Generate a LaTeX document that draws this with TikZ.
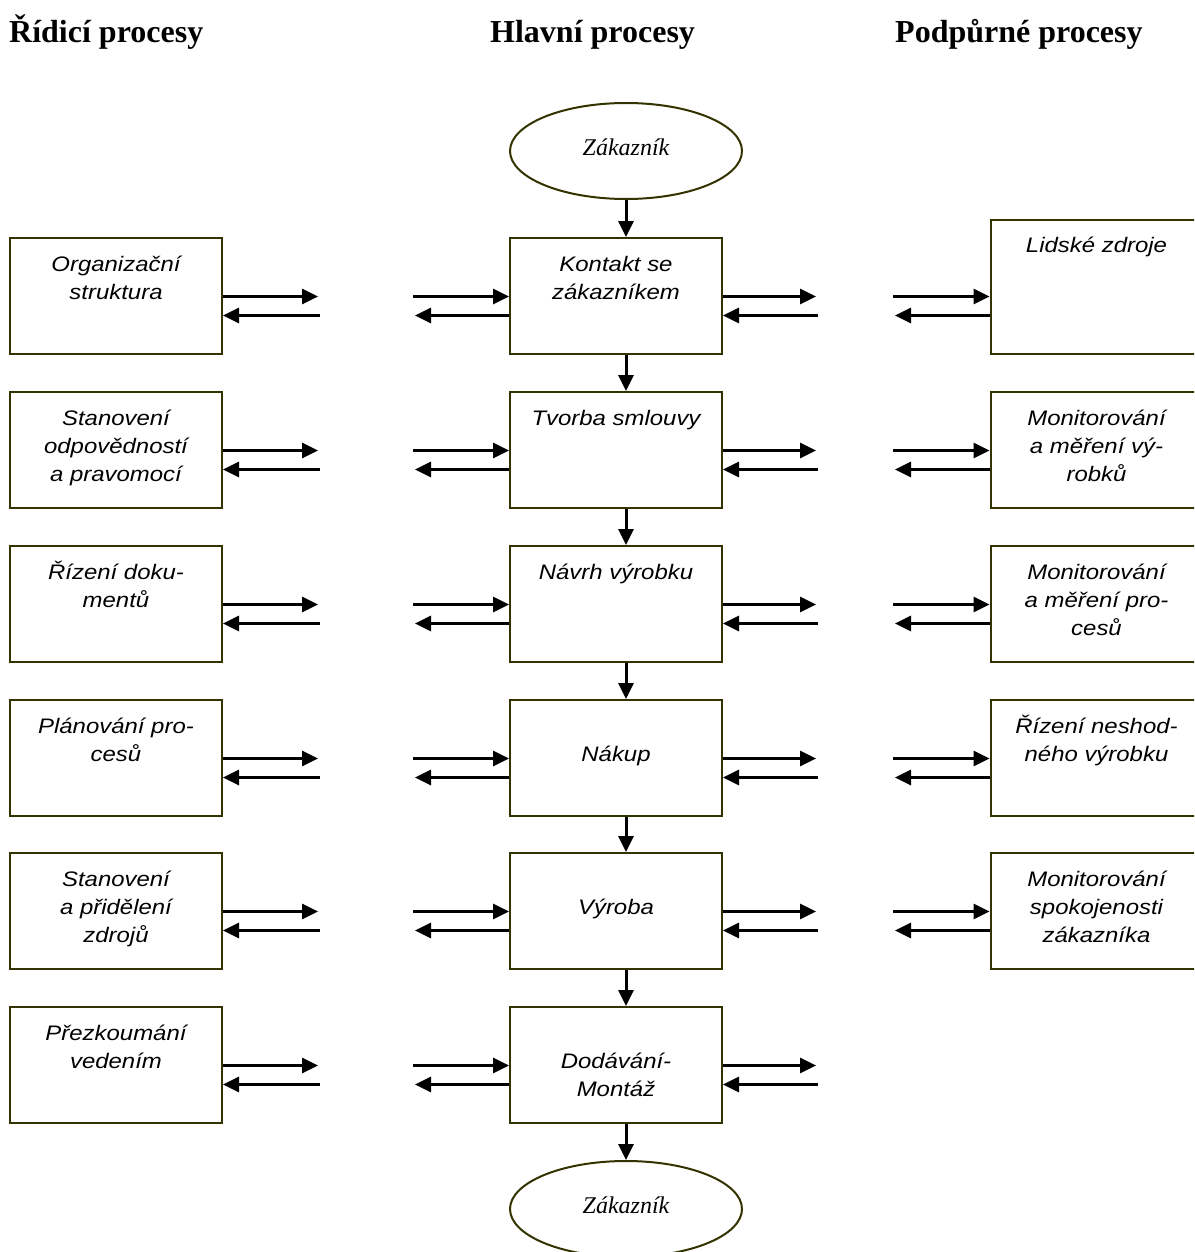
\documentclass[tikz,border=0pt]{standalone}
\usepackage{fontspec}
\setmainfont{Liberation Serif}
\newfontfamily\boxfont[FakeStretch=1.14]{Liberation Sans}
\usetikzlibrary{arrows.meta,calc,shapes.geometric}
\definecolor{boxline}{HTML}{333300}
\tikzset{
  procbox/.style={draw=boxline, line width=2pt, minimum width=212pt, minimum height=116pt, inner sep=0pt},
  boxtext/.style={font=\boxfont\itshape\fontsize{21}{28}\selectfont, align=center, anchor=base, inner sep=0pt},
  custell/.style={ellipse, draw=boxline, line width=2pt, minimum width=232pt, minimum height=96pt, inner sep=0pt,
    font=\itshape\fontsize{24}{28}\selectfont, text height=9pt, text depth=0pt},
  flow/.style={line width=3pt, -{Triangle[length=16pt,width=15pt]}},
  head/.style={font=\bfseries\fontsize{32}{38}\selectfont, anchor=base west, inner sep=0pt},
}
\begin{document}
\begin{tikzpicture}[x=1pt,y=-1pt]
\clip (0,0) rectangle (1194,1252);
% headers
\node[head] (h1) at (9,43) {Řídicí procesy};
\node[head] (h2) at (490,43) {Hlavní procesy};
\node[head] (h3) at (895,43) {Podpůrné procesy};
% customers
\node[custell] (ztop) at (626,151) {Zákazník};
\node[custell] (zbot) at (626,1209) {Zákazník};
% left column
\node[procbox] (L1) at (116,296) {};
\node[procbox] (L2) at (116,450) {};
\node[procbox] (L3) at (116,604) {};
\node[procbox] (L4) at (116,758) {};
\node[procbox] (L5) at (116,911) {};
\node[procbox] (L6) at (116,1065) {};
% centre column
\node[procbox] (C1) at (616,296) {};
\node[procbox] (C2) at (616,450) {};
\node[procbox] (C3) at (616,604) {};
\node[procbox] (C4) at (616,758) {};
\node[procbox] (C5) at (616,911) {};
\node[procbox] (C6) at (616,1065) {};
% right column
\node[procbox, minimum height=134pt] (R1) at (1096.5,287) {};
\node[procbox] (R2) at (1096.5,450) {};
\node[procbox] (R3) at (1096.5,604) {};
\node[procbox] (R4) at (1096.5,758) {};
\node[procbox] (R5) at (1096.5,911) {};
% texts (anchor = baseline of the last line)
\node[boxtext] (tL1) at ($(L1.north)+(0,62)$) {Organizační\\struktura};
\node[boxtext] (tL2) at ($(L2.north)+(0,90)$) {Stanovení\\odpovědností\\a pravomocí};
\node[boxtext] (tL3) at ($(L3.north)+(0,62)$) {Řízení doku-\\mentů};
\node[boxtext] (tL4) at ($(L4.north)+(0,62)$) {Plánování pro-\\cesů};
\node[boxtext] (tL5) at ($(L5.north)+(0,90)$) {Stanovení\\a přidělení\\zdrojů};
\node[boxtext] (tL6) at ($(L6.north)+(0,62)$) {Přezkoumání\\vedením};
\node[boxtext] (tC1) at ($(C1.north)+(0,62)$) {Kontakt se\\zákazníkem};
\node[boxtext] (tC2) at ($(C2.north)+(0,34)$) {Tvorba smlouvy};
\node[boxtext] (tC3) at ($(C3.north)+(0,34)$) {Návrh výrobku};
\node[boxtext] (tC4) at ($(C4.north)+(0,62)$) {Nákup};
\node[boxtext] (tC5) at ($(C5.north)+(0,62)$) {Výroba};
\node[boxtext] (tC6) at ($(C6.north)+(0,90)$) {Dodávání-\\Montáž};
\node[boxtext] (tR1) at ($(R1.north)+(0,33)$) {Lidské zdroje};
\node[boxtext] (tR2) at ($(R2.north)+(0,90)$) {Monitorování\\a měření vý-\\robků};
\node[boxtext] (tR3) at ($(R3.north)+(0,90)$) {Monitorování\\a měření pro-\\cesů};
\node[boxtext] (tR4) at ($(R4.north)+(0,62)$) {Řízení neshod-\\ného výrobku};
\node[boxtext] (tR5) at ($(R5.north)+(0,90)$) {Monitorování\\spokojenosti\\zákazníka};
% horizontal arrows
\foreach \i/\t in {1/238,2/392,3/546,4/700,5/853,6/1007} {
  \coordinate (ya\i) at (0,\t+58.5);
  \coordinate (yb\i) at (0,\t+77.5);
  \coordinate (lo\i) at (318,\t+58.5);
  \coordinate (li\i) at (320,\t+77.5);
  \coordinate (cli\i) at (413,\t+58.5);
  \coordinate (clo\i) at (415,\t+77.5);
  \coordinate (cro\i) at (816,\t+58.5);
  \coordinate (cri\i) at (818,\t+77.5);
  \draw[flow] (L\i.east |- ya\i) -- (lo\i);
  \draw[flow] (li\i) -- (L\i.east |- yb\i);
  \draw[flow] (cli\i) -- (C\i.west |- ya\i);
  \draw[flow] (C\i.west |- yb\i) -- (clo\i);
  \draw[flow] (C\i.east |- ya\i) -- (cro\i);
  \draw[flow] (cri\i) -- (C\i.east |- yb\i);
}
\foreach \i/\t in {1/238,2/392,3/546,4/700,5/853} {
  \coordinate (rli\i) at (893,\t+58.5);
  \coordinate (rlo\i) at (895,\t+77.5);
  \draw[flow] (rli\i) -- (R\i.west |- ya\i);
  \draw[flow] (R\i.west |- yb\i) -- (rlo\i);
}
% vertical arrows
\draw[flow] (ztop.south) -- (ztop.south |- C1.north);
\foreach \i/\j in {1/2,2/3,3/4,4/5,5/6} {
  \draw[flow] (ztop.south |- C\i.south) -- (ztop.south |- C\j.north);
}
\draw[flow] (ztop.south |- C6.south) -- (zbot.north);
\end{tikzpicture}
\end{document}
